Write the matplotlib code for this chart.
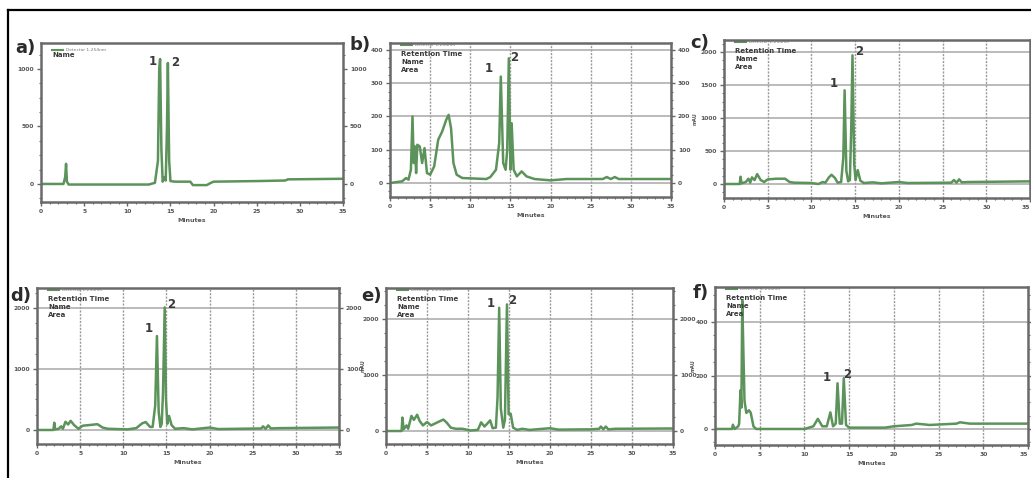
import matplotlib
matplotlib.use("Agg")
from matplotlib import pyplot as plt
from matplotlib.lines import Line2D
from matplotlib.ticker import MultipleLocator

# HPLC traces (time in min, signal)
time_a = [0, 2.6, 2.8, 2.9, 3.0, 3.2, 12.5, 13.2, 13.55, 13.7, 13.8, 13.95, 14.1, 14.3,
          14.45, 14.6, 14.7, 14.85, 15.0, 15.5, 17.3, 17.6, 19.2, 19.7, 20.0, 25, 28.3, 28.6, 35]
signal_a = [0, 0, 60, 175, 20, -5, -5, 10, 200, 1000, 1087, 300, 20, 60,
            30, 500, 1052, 200, 25, 20, 20, -10, -10, 10, 20, 25, 30, 40, 45]

time_b = [0, 1.5, 2.0, 2.3, 2.6, 2.8, 2.95, 3.1, 3.25, 3.4, 3.7, 4.0, 4.3, 4.6, 5.0, 5.5,
          6.0, 6.5, 7.0, 7.3, 7.6, 7.9, 8.3, 9.0, 12.0, 12.5, 13.2, 13.6, 13.8, 14.1, 14.4,
          14.6, 14.8, 15.0, 15.15, 15.4, 15.8, 16.4, 17.0, 18.0, 20.0, 22.0, 26.5, 27.0,
          27.5, 28.0, 28.5, 35]
signal_b = [0, 5, 15, 10, 40, 200, 60, 110, 30, 115, 110, 60, 105, 30, 25, 50,
            130, 155, 190, 205, 165, 60, 25, 15, 12, 18, 40, 120, 320, 60, 40,
            100, 375, 40, 180, 40, 20, 35, 20, 12, 8, 12, 12, 18,
            12, 18, 12, 12]

time_c = [0, 1.8, 1.9, 2.0, 2.5, 2.8, 3.0, 3.2, 3.5, 3.8, 4.2, 4.6, 5.0, 6.0, 7.0, 7.5,
          8.0, 10.0, 10.8, 11.3, 11.6, 12.0, 12.3, 12.7, 13.0, 13.4, 13.65, 13.8, 14.0,
          14.2, 14.4, 14.55, 14.7, 14.9, 15.05, 15.3, 15.6, 16.0, 17.0, 18.0, 20.0, 21.0,
          26.0, 26.3, 26.6, 26.9, 27.2, 28.0, 35]
signal_c = [0, 0, 110, 10, 30, 80, 20, 100, 60, 150, 60, 30, 70, 80, 80, 30,
            20, 15, 0, 30, 20, 100, 140, 90, 20, 30, 400, 1420, 200,
            40, 60, 800, 1950, 300, 60, 210, 50, 15, 25, 10, 30, 15,
            20, 60, 20, 70, 25, 30, 40]

time_d = [0, 1.9, 2.0, 2.1, 2.5, 2.8, 3.0, 3.3, 3.6, 3.9, 4.3, 4.8, 5.3, 6.0, 7.0, 7.6,
          8.2, 10.5, 11.5, 12.2, 12.6, 13.1, 13.4, 13.7, 13.9, 14.1, 14.3, 14.45, 14.6,
          14.8, 14.95, 15.1, 15.3, 15.6, 16.0, 17.0, 18.0, 20.0, 21.0, 26.0, 26.2, 26.5,
          26.8, 27.1, 28.0, 35]
signal_d = [0, 0, 120, 10, 20, 60, 20, 135, 90, 150, 80, 20, 70, 80, 95, 40,
            20, 10, 30, 110, 130, 50, 50, 400, 1540, 300, 50, 100, 600,
            2010, 500, 100, 230, 80, 20, 30, 10, 40, 15, 25, 60, 20,
            75, 25, 30, 40]

time_e = [0, 1.9, 2.0, 2.15, 2.5, 2.7, 3.1, 3.4, 3.8, 4.1, 4.5, 5.0, 5.5, 6.2, 7.0, 7.4,
          7.9, 8.5, 9.3, 10.3, 11.2, 11.6, 12.0, 12.4, 12.7, 13.0, 13.4, 13.6, 13.8, 14.0,
          14.3, 14.5, 14.75, 14.95, 15.2, 15.5, 16.0, 16.6, 17.5, 20.0, 21.0, 25.0, 26.0,
          26.2, 26.5, 26.8, 27.1, 28.0, 35]
signal_e = [0, 0, 240, 30, 100, 40, 270, 200, 290, 180, 100, 160, 100, 150, 205, 150,
            60, 40, 40, 10, 20, 155, 80, 140, 190, 50, 60, 600, 2200, 400,
            60, 200, 2260, 300, 310, 60, 20, 40, 20, 50, 25, 30, 40,
            80, 30, 80, 30, 40, 45]

time_f = [0, 1.9, 2.0, 2.2, 2.6, 2.7, 2.85, 2.95, 3.05, 3.2, 3.3, 3.5, 3.8, 4.0, 4.3, 4.6,
          10.0, 11.0, 11.5, 12.0, 12.5, 12.9, 13.2, 13.5, 13.7, 13.95, 14.2, 14.4, 14.65,
          15.0, 19.0, 20.0, 22.0, 22.5, 24.0, 27.0, 27.4, 28.5, 35]
signal_f = [0, 0, 16, 0, 10, 20, 145, 80, 480, 250, 105, 60, 70, 60, 10, 0,
            0, 10, 38, 10, 10, 62, 10, 20, 171, 20, 20, 190, 15,
            5, 5, 10, 15, 20, 15, 20, 25, 20, 20]

# retention times of the two marked compounds
peaks_a = [13.8, 14.7]
peaks_b = [13.8, 14.8]
peaks_c = [13.8, 14.7]
peaks_d = [13.9, 14.8]
peaks_e = [13.8, 14.75]
peaks_f = [13.7, 14.4]

yticks_a = [0, 500, 1000]
yticks_b = [0, 100, 200, 300, 400]
yticks_c = [0, 500, 1000, 1500, 2000]
yticks_d = [0, 1000, 2000]
yticks_e = [0, 1000, 2000]
yticks_f = [0, 200, 400]
xticks = [0, 5, 10, 15, 20, 25, 30, 35]

GREEN = '#5b935a'
TXT = '#3a3a3a'
W, H = 1031, 478

# panel layout: axes rect (fig fraction), ylim, letter position (px), label offsets (px)
panels = [
    dict(t=time_a, s=signal_a, pk=peaks_a, yt=yticks_a, letter='a)', rect=[0.0398, 0.5774, 0.2929, 0.3326],
         ylim=(-157, 1226), lpos=(25, 48), offs=[(-7, -3), (7, 1)], grid=False, right=True,
         names=['Name'], ylabel_x=None),
    dict(t=time_b, s=signal_b, pk=peaks_b, yt=yticks_b, letter='b)', rect=[0.3783, 0.5879, 0.2725, 0.3222],
         ylim=(-42, 421), lpos=(360, 45), offs=[(-12, 8), (5, 1)], grid=True, right=True,
         names=['Retention Time', 'Name', 'Area'], ylabel_x=None),
    dict(t=time_c, s=signal_c, pk=peaks_c, yt=yticks_c, letter='c)', rect=[0.7022, 0.5858, 0.2968, 0.3305],
         ylim=(-212, 2182), lpos=(700, 43), offs=[(-11, 7), (7, 4)], grid=True, right=False,
         names=['Retention Time', 'Name', 'Area'], ylabel_x=698),
    dict(t=time_d, s=signal_d, pk=peaks_d, yt=yticks_d, letter='d)', rect=[0.0359, 0.0711, 0.2929, 0.3264],
         ylim=(-230, 2328), lpos=(21, 296), offs=[(-8, 8), (6, 3)], grid=True, right=True,
         names=['Retention Time', 'Name', 'Area'], ylabel_x=None),
    dict(t=time_e, s=signal_e, pk=peaks_e, yt=yticks_e, letter='e)', rect=[0.3744, 0.0711, 0.2784, 0.3264],
         ylim=(-232, 2554), lpos=(372, 296), offs=[(-8, 4), (5, 4)], grid=True, right=True,
         names=['Retention Time', 'Name', 'Area'], ylabel_x=366),
    dict(t=time_f, s=signal_f, pk=peaks_f, yt=yticks_f, letter='f)', rect=[0.6935, 0.0690, 0.3036, 0.3305],
         ylim=(-60, 531), lpos=(701, 293), offs=[(-11, 6), (3, 4)], grid=True, right=False,
         names=['Retention Time', 'Name', 'Area'], ylabel_x=696),
]

fig = plt.figure(figsize=(W / 100, H / 100), dpi=100)

# outer frame of the scanned figure
fig.add_artist(Line2D([8 / W, 8 / W], [0, 1 - 10 / H], color='black', lw=1.6))
fig.add_artist(Line2D([8 / W, 1], [1 - 10 / H, 1 - 10 / H], color='black', lw=1.6))


def apex(t, s, rt):
    # highest point of the trace close to the retention time
    best = None
    for ti, si in zip(t, s):
        if abs(ti - rt) <= 0.3 and (best is None or si > best[1]):
            best = (ti, si)
    return best


for p in panels:
    ax = fig.add_axes(p['rect'])
    ax.plot(p['t'], p['s'], color=GREEN, lw=1.8, solid_joinstyle='round')
    ax.set_xlim(0, 35)
    ax.set_ylim(*p['ylim'])
    ax.set_xticks(xticks)
    ax.set_yticks(p['yt'])
    ax.xaxis.set_minor_locator(MultipleLocator(1))
    ax.yaxis.set_minor_locator(MultipleLocator(p['yt'][1] / 4))
    if p['grid']:
        ax.grid(True, which='major', axis='x', color='#9a9a9a', lw=1.0, ls=(0, (1.5, 1)))
        ax.grid(True, which='major', axis='y', color='#a8a8a8', lw=1.1)
        ax.set_axisbelow(True)
    for sp in ax.spines.values():
        sp.set_color('#6a6a6a')
        sp.set_linewidth(1.8)
    ax.tick_params(which='both', direction='out', color='#666666', labelsize=4.3,
                   labelcolor='#555555', right=True, labelright=p['right'], pad=2)
    ax.tick_params(which='major', length=3, width=1)
    ax.tick_params(which='minor', length=1.5, width=0.8)
    for lab in ax.get_xticklabels() + ax.get_yticklabels():
        lab.set_fontweight('bold')
    if not p['right']:
        # last tick sits on the image edge, keep its label inside
        ax.get_xticklabels()[-1].set_horizontalalignment('right')
    ax.set_xlabel('Minutes', fontsize=4.5, color='#555555', fontweight='bold', labelpad=3)
    if p['ylabel_x'] is not None:
        ax.set_ylabel('mAU', fontsize=3.5, color='#555555', fontweight='bold')
        left_px = p['rect'][0] * W
        ax.yaxis.set_label_coords((p['ylabel_x'] - left_px) / (p['rect'][2] * W), 0.5)

    # little detector legend in the top-left corner
    bb = ax.get_window_extent()
    px = 1.0 / bb.width
    py = 1.0 / bb.height
    y0 = 1 - (7 if p['letter'] == 'a)' else 2) * py
    ax.plot([11 * px, 22 * px], [y0, y0], transform=ax.transAxes, color=GREEN, lw=1.5, clip_on=False)
    ax.text(25 * px, y0, 'Detector 1-254nm', transform=ax.transAxes, fontsize=3.2,
            color='#777777', va='center', ha='left')
    start = 12 if p['letter'] == 'a)' else 11
    for i, name in enumerate(p['names']):
        ax.text(11 * px, 1 - (start + 8 * i) * py, name, transform=ax.transAxes,
                fontsize=5, color=TXT, va='center', ha='left', fontweight='bold')

    # peak numbers
    for num, rt, off in zip(['1', '2'], p['pk'], p['offs']):
        tx, sy = apex(p['t'], p['s'], rt)
        ax.annotate(num, (tx, sy), xytext=off, textcoords='offset pixels',
                    ha='center', va='center', fontsize=8.5, fontweight='bold', color=TXT)

    fig.text(p['lpos'][0] / W, 1 - p['lpos'][1] / H, p['letter'], fontsize=13,
             fontweight='bold', color='#2b2b2b', ha='center', va='center')

fig.savefig('out.png', dpi=100)
